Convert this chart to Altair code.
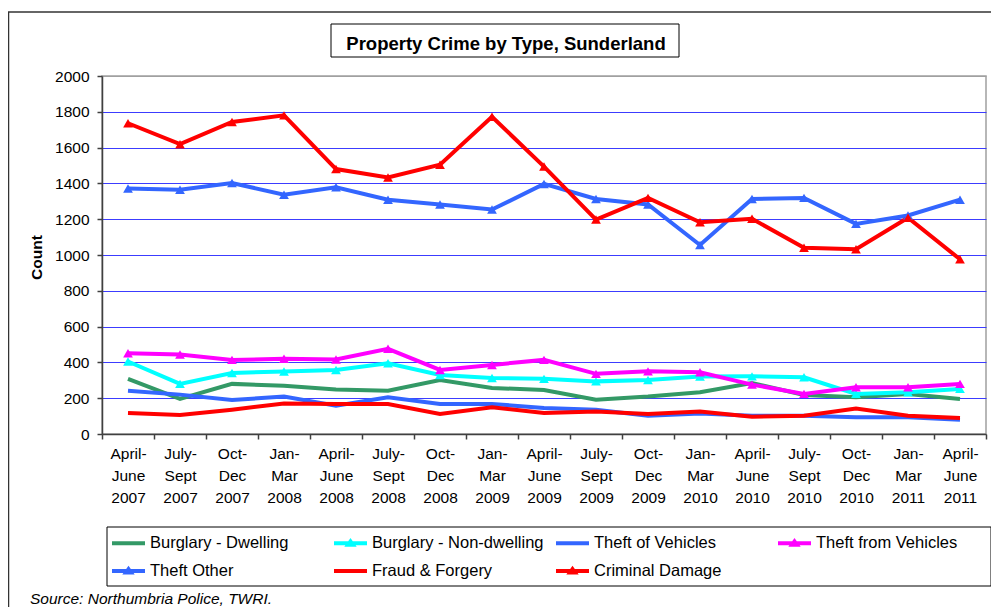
import altair as alt
import pandas as pd

quarters = ["April-June 2007", "July-Sept 2007", "Oct-Dec 2007", "Jan-Mar 2008",
            "April-June 2008", "July-Sept 2008", "Oct-Dec 2008", "Jan-Mar 2009",
            "April-June 2009", "July-Sept 2009", "Oct-Dec 2009", "Jan-Mar 2010",
            "April-June 2010", "July-Sept 2010", "Oct-Dec 2010", "Jan-Mar 2011",
            "April-June 2011"]

series_names = ["Burglary - Dwelling", "Burglary - Non-dwelling", "Theft of Vehicles",
                "Theft from Vehicles", "Theft Other", "Fraud & Forgery", "Criminal Damage"]

burglary_dwelling = [308, 196, 280, 270, 248, 242, 302, 257, 246, 192, 209, 233, 285, 218, 205, 224, 196]
burglary_non_dwelling = [405, 280, 341, 349, 358, 395, 330, 313, 308, 294, 302, 321, 322, 317, 224, 233, 252]
theft_of_vehicles = [242, 220, 190, 209, 158, 205, 168, 168, 145, 136, 102, 115, 102, 102, 93, 93, 80]
theft_from_vehicles = [451, 444, 414, 420, 416, 476, 358, 386, 414, 336, 350, 345, 276, 224, 261, 261, 280]
theft_other = [1371, 1365, 1402, 1337, 1378, 1309, 1282, 1254, 1397, 1313, 1282, 1056, 1313, 1319, 1174, 1221, 1309]
fraud_forgery = [117, 106, 136, 171, 168, 168, 112, 149, 117, 125, 112, 125, 97, 102, 143, 102, 90]
criminal_damage = [1736, 1619, 1743, 1780, 1480, 1433, 1504, 1772, 1494, 1198, 1319, 1183, 1202, 1041, 1032, 1208, 976]

series_values = [burglary_dwelling, burglary_non_dwelling, theft_of_vehicles,
                 theft_from_vehicles, theft_other, fraud_forgery, criminal_damage]
series_colors = ["#339966", "#00ffff", "#3366ff", "#ff00ff", "#3366ff", "#ff0000", "#ff0000"]
has_marker = [False, True, False, True, True, False, True]

y_ticks = list(range(0, 2001, 200))

rows = []
for i, (name, vals) in enumerate(zip(series_names, series_values)):
    for q, v in zip(quarters, vals):
        rows.append({"series": name, "order": i, "quarter": q, "value": v,
                     "marker": has_marker[i]})
df = pd.DataFrame(rows)

FONT = "Liberation Sans"
W, H = 884, 358

LINE_PATH = "M-1,-0.2H2.3V0.2H-1Z"
TRI_PATH = "M-1,-0.2H2.3V0.2H-1ZM0.65,-0.52L1.27,0.34L0.03,0.34Z"
shape_paths = [TRI_PATH if m else LINE_PATH for m in has_marker]

color_scale = alt.Scale(domain=series_names, range=series_colors)

label_expr = ("indexof(datum.label, ' ') < 0 ? '' : "
              "[split(split(datum.label, ' ')[0], '-')[0] + '-', "
              "split(split(datum.label, ' ')[0], '-')[1], split(datum.label, ' ')[1]]")

x_enc = alt.X(
    "quarter:N", sort=quarters, bandPosition=0.5,
    scale=alt.Scale(type="band", domain=quarters, paddingInner=0, paddingOuter=0),
    axis=alt.Axis(title=None, labelAngle=0, tickBand="extent", labelExpr=label_expr,
                  labelFontSize=15.5, labelFont=FONT, labelColor="black", labelLineHeight=22,
                  labelBaseline="top", labelPadding=7, tickSize=5, tickColor="#404040",
                  tickWidth=1.5, domainColor="#404040", domainWidth=1.5, grid=False,
                  labelOverlap=False, labelAlign="center"),
)
y_enc = alt.Y(
    "value:Q", scale=alt.Scale(domain=[0, 2000], nice=False),
    axis=alt.Axis(values=y_ticks, format="d", title="Count", titleFontWeight="bold",
                  titleFontSize=15.5, titleFont=FONT, titleColor="black", titleAngle=270,
                  titleX=-66, titleY=181, titleAlign="center", titleBaseline="middle",
                  labelFontSize=15.5, labelFont=FONT, labelColor="black", labelPadding=8,
                  tickSize=5, tickColor="#404040", tickWidth=1.5, domainColor="#404040",
                  domainWidth=1.5,
                  gridColor={"condition": {"test": "datum.value == 0 || datum.value == 2000",
                                           "value": "#a0a0a0"}, "value": "#3c3cff"},
                  gridWidth=1),
)

lines = alt.Chart(df).mark_line(strokeWidth=4).encode(
    x=x_enc, y=y_enc,
    color=alt.Color("series:N", scale=color_scale, legend=None),
)

points = alt.Chart(df).transform_filter("datum.marker").mark_point(
    shape="triangle-up", filled=True, size=95, opacity=1
).encode(
    x=x_enc, y=y_enc,
    color=alt.Color("series:N", scale=color_scale, legend=None),
)

legend_cfg = dict(orient="none", legendX=5, legendY=452, columns=4, gridAlign="all",
                  columnPadding=12, rowPadding=9, symbolSize=400, symbolStrokeWidth=0,
                  symbolOpacity=1, labelFontSize=16.5, labelFont=FONT, labelColor="black",
                  labelOffset=18, labelLimit=300, title=None, padding=5,
                  direction="horizontal")

legend_layer = alt.Chart(df).transform_filter("false").mark_point(
    filled=True, opacity=1
).encode(
    x=x_enc, y=y_enc,
    color=alt.Color("series:N", scale=color_scale, legend=alt.Legend(**legend_cfg)),
    shape=alt.Shape("series:N", scale=alt.Scale(domain=series_names, range=shape_paths),
                    legend=alt.Legend(**legend_cfg)),
)

deco = alt.Data(values=[{}])
frame_left = alt.Chart(deco).mark_rule(color="#333333", strokeWidth=1.5).encode(
    x=alt.value(-93.5), y=alt.value(-64), y2=alt.value(600))
frame_top = alt.Chart(deco).mark_rule(color="#333333", strokeWidth=1.5).encode(
    x=alt.value(-94), x2=alt.value(900), y=alt.value(-64))
legend_box = alt.Chart(deco).mark_rect(fill="white", stroke="black", strokeWidth=1).encode(
    x=alt.value(5), x2=alt.value(889), y=alt.value(451), y2=alt.value(510))
title_box = alt.Chart(deco).mark_rect(fill="white", stroke="black", strokeWidth=1).encode(
    x=alt.value(229), x2=alt.value(577), y=alt.value(-52), y2=alt.value(-19))
title_text = alt.Chart(deco).mark_text(
    text="Property Crime by Type, Sunderland", font=FONT, fontSize=18.5, fontWeight="bold",
    align="center", baseline="alphabetic", color="black"
).encode(x=alt.value(404), y=alt.value(-26))
source_text = alt.Chart(deco).mark_text(
    text="Source: Northumbria Police, TWRI.", font=FONT, fontSize=15.5, fontStyle="italic",
    align="left", baseline="alphabetic", color="black"
).encode(x=alt.value(-72), y=alt.value(528))

chart = alt.layer(
    frame_left, frame_top, legend_box, lines, points, legend_layer, title_box, title_text,
    source_text
).resolve_scale(color="independent", shape="independent").properties(
    width=W, height=H,
    padding={"left": 94, "top": 68, "right": 5, "bottom": 173},
    autosize=alt.AutoSizeParams(type="none"),
).configure_view(stroke="#a0a0a0", strokeWidth=1.5)

chart.save("out.html", embed_options={"renderer": "svg", "actions": False})
